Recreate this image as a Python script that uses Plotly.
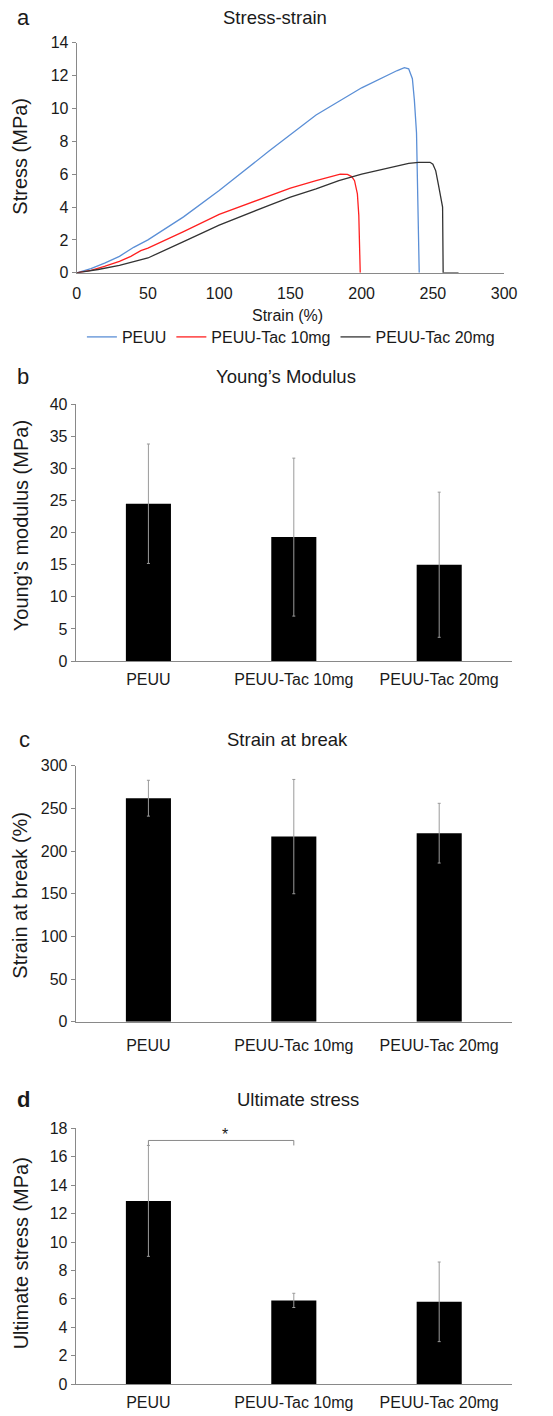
import plotly.graph_objects as go

# ---------------- data ----------------
peuu_strain = [0, 10, 20, 30, 40, 50, 75, 100, 135, 168, 200, 215, 225, 230, 233, 235.6, 237, 238.5, 239.5, 240.4]
peuu_stress = [0, 0.25, 0.6, 1.0, 1.55, 2.0, 3.4, 5.0, 7.4, 9.6, 11.25, 11.9, 12.3, 12.47, 12.4, 11.8, 10.5, 8.5, 5.0, 0]

tac10_strain = [0, 10, 20, 30, 38, 45, 50, 75, 100, 135, 150, 168, 180, 185, 190, 193, 195, 197, 198, 198.6, 199]
tac10_stress = [0, 0.15, 0.4, 0.7, 1.0, 1.35, 1.5, 2.5, 3.55, 4.67, 5.15, 5.6, 5.9, 6.0, 5.98, 5.85, 5.6, 4.8, 3.5, 2.0, 0]

tac20_strain = [0, 15, 30, 50, 75, 100, 135, 150, 168, 184, 200, 220, 233, 240, 248, 250, 252, 254, 256, 256.8, 257.2, 268]
tac20_stress = [0, 0.2, 0.45, 0.9, 1.9, 2.9, 4.1, 4.6, 5.1, 5.6, 6.0, 6.4, 6.65, 6.72, 6.72, 6.6, 6.2, 5.3, 4.2, 4.0, 0, 0]

groups = ["PEUU", "PEUU-Tac 10mg", "PEUU-Tac 20mg"]
youngs_mean = [24.5, 19.3, 15.0]
youngs_err = [9.3, 12.3, 11.3]
strain_break_mean = [262, 217, 221]
strain_break_err = [21, 67, 35]
ult_stress_mean = [12.9, 5.9, 5.8]
ult_stress_err = [3.9, 0.5, 2.8]

W, H = 553, 1416
FONT = "Liberation Sans, Arial, sans-serif"
AX = "#898989"
ERR = "#9a9a9a"
TXT = "#1a1a1a"

def px(x):
    return x / W

def py(y):
    return 1 - y / H

fig = go.Figure()

# panel a: stress-strain curves
fig.add_trace(go.Scatter(x=peuu_strain, y=peuu_stress, mode="lines", name="PEUU",
                         line=dict(color="#5b8fd6", width=1.3), xaxis="x", yaxis="y"))
fig.add_trace(go.Scatter(x=tac10_strain, y=tac10_stress, mode="lines", name="PEUU-Tac 10mg",
                         line=dict(color="#ff2020", width=1.3), xaxis="x", yaxis="y"))
fig.add_trace(go.Scatter(x=tac20_strain, y=tac20_stress, mode="lines", name="PEUU-Tac 20mg",
                         line=dict(color="#333333", width=1.3), xaxis="x", yaxis="y"))

# bar panels
pos = list(range(len(groups)))
for i, (mean, err) in enumerate([(youngs_mean, youngs_err),
                                  (strain_break_mean, strain_break_err),
                                  (ult_stress_mean, ult_stress_err)]):
    n = i + 2
    fig.add_trace(go.Bar(x=pos, y=mean, width=0.31, marker=dict(color="black", line=dict(width=0)),
                         error_y=dict(type="data", array=err, color=ERR, thickness=1, width=1.5),
                         showlegend=False, xaxis=f"x{n}", yaxis=f"y{n}"))

x_dom_a = [px(75), px(516)]
x_dom_b = [px(74), px(524)]

TICK = 16
common_y = dict(showline=True, linecolor=AX, linewidth=1, ticks="outside", ticklen=4, tickcolor=AX,
                showgrid=False, zeroline=False, tickfont=dict(size=TICK, color=TXT))
def xbar(standoff):
    return dict(showline=True, linecolor=AX, linewidth=1, ticks="", showgrid=False, zeroline=False,
                tickmode="array", tickvals=pos, ticktext=groups, range=[-0.5, 2.5],
                tickfont=dict(size=TICK, color=TXT), ticklabelstandoff=standoff)

fig.update_layout(
    width=W, height=H, margin=dict(l=0, r=0, t=0, b=0),
    paper_bgcolor="white", plot_bgcolor="white",
    font=dict(family=FONT, color=TXT),
    showlegend=True,
    legend=dict(orientation="h", x=px(296), xanchor="center", y=py(333), yanchor="middle",
                font=dict(size=16), itemwidth=30, tracegroupgap=0),
    xaxis=dict(domain=x_dom_a, anchor="y", range=[0, 300], dtick=50, showline=True, linecolor=AX,
               ticks="", showgrid=False, zeroline=False, tickfont=dict(size=TICK, color=TXT),
               ticklabelstandoff=6),
    yaxis=dict(domain=[py(268), py(35)], anchor="x", range=[0, 14], dtick=2, **common_y),
    xaxis2=dict(domain=x_dom_b, anchor="y2", **xbar(4)),
    yaxis2=dict(domain=[py(661), py(401)], anchor="x2", range=[0, 40], dtick=5, **common_y),
    xaxis3=dict(domain=x_dom_b, anchor="y3", **xbar(9)),
    yaxis3=dict(domain=[py(1026), py(767)], anchor="x3", range=[0, 300], dtick=50, **common_y),
    xaxis4=dict(domain=x_dom_b, anchor="y4", **xbar(4)),
    yaxis4=dict(domain=[py(1393), py(1134)], anchor="x4", range=[0, 18], dtick=2, **common_y),
)

ann = []
def text(x, y, s, size=18.5, angle=0, bold=False):
    ann.append(dict(x=px(x), y=py(y), xref="paper", yref="paper", text=f"<b>{s}</b>" if bold else s,
                    showarrow=False, textangle=angle, font=dict(size=size, color=TXT),
                    xanchor="center", yanchor="middle"))

# panel letters
text(20, 10, "a", size=22)
text(20, 373, "b", size=22)
text(21, 740, "c", size=22)
text(20, 1105, "d", size=22, bold=True)
# titles
text(280, 10, "Stress-strain")
text(291, 373, "Young\u2019s Modulus")
text(293, 740, "Strain at break")
text(303, 1105, "Ultimate stress")
# axis titles
text(292, 311, "Strain (%)", size=16)
text(17, 150, "Stress (MPa)", size=20, angle=-90)
text(17, 524, "Young\u2019s modulus (MPa)", size=20, angle=-90)
text(17, 898, "Strain at break (%)", size=20, angle=-90)
text(17, 1260, "Ultimate stress (MPa)", size=20, angle=-90)

# significance bracket in panel d
fig.add_shape(type="path", path="M 0,16.8 L 0,17.15 L 1,17.15 L 1,16.8", xref="x4", yref="y4",
              line=dict(color=AX, width=1))
ann.append(dict(x=0.53, y=17.6, xref="x4", yref="y4", text="*", showarrow=False,
                font=dict(size=16, color=TXT), xanchor="center", yanchor="middle"))

fig.update_layout(annotations=ann)
fig.write_html("out.html", config={"displayModeBar": False},
               post_script="document.body.style.margin='0px';")
